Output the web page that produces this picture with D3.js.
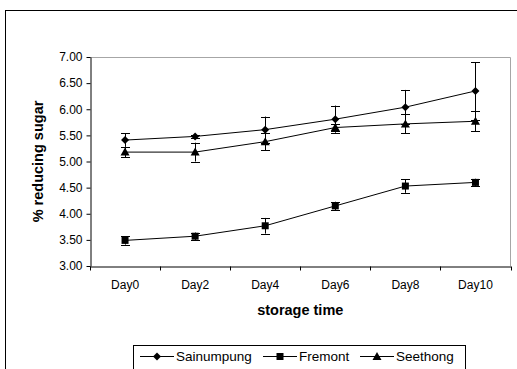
<!DOCTYPE html>
<meta charset="utf-8">
<style>
body { margin: 0; background: #fff; }
text { font-family: Arial, "Liberation Sans", sans-serif; fill: #000; }
.tick text { font-size: 12px; }
.title { font-size: 14.5px; font-weight: bold; }
.legend text { font-size: 13.5px; }
</style>
<body>
<div id="chart"></div>
<script src="https://cdn.jsdelivr.net/npm/d3@7/dist/d3.min.js"></script>
<script>

// data
var days = ["Day0", "Day2", "Day4", "Day6", "Day8", "Day10"];
var yTicks = [3.00, 3.50, 4.00, 4.50, 5.00, 5.50, 6.00, 6.50, 7.00];
var seriesNames = ["Sainumpung", "Fremont", "Seethong"];
var seriesShapes = ["diamond", "square", "triangle"];
var sainumpung = [5.41, 5.48, 5.61, 5.81, 6.04, 6.35];
var sainumpungErr = [0.13, 0.03, 0.25, 0.26, 0.33, 0.55];
var fremont = [3.49, 3.57, 3.77, 4.15, 4.53, 4.60];
var fremontErr = [0.08, 0.07, 0.15, 0.08, 0.13, 0.07];
var seethong = [5.18, 5.18, 5.38, 5.65, 5.72, 5.77];
var seethongErr = [0.10, 0.18, 0.16, 0.06, 0.18, 0.19];

var WIDTH = 517;
var HEIGHT = 369;
var PLOT_LEFT = 90;
var PLOT_RIGHT = 510.5;
var PLOT_TOP = 57;
var PLOT_BOTTOM = 266;

var svg = d3.select('#chart').append('svg')
    .attr('width', WIDTH)
    .attr('height', HEIGHT);

// outer chart frame (cut off at right and bottom)
svg.append('rect')
    .attr('x', 5.5).attr('y', 10.5)
    .attr('width', 530).attr('height', 380)
    .attr('fill', '#fff')
    .attr('stroke', '#000')
    .attr('stroke-width', 1);

var x = d3.scaleBand()
    .domain(days)
    .range([PLOT_LEFT, PLOT_RIGHT]);

var y = d3.scaleLinear()
    .domain([3, 7])
    .range([PLOT_BOTTOM, PLOT_TOP]);

var cx = function(d, i) { return x(days[i]) + x.bandwidth() / 2; };

// plot area border, grey on top and right
svg.append('path')
    .attr('d', 'M' + PLOT_LEFT + ',' + (PLOT_TOP + 0.5) + 'H' + PLOT_RIGHT + 'V' + PLOT_BOTTOM)
    .attr('fill', 'none')
    .attr('stroke', '#a6a6a6')
    .attr('stroke-width', 1);

var yAxis = svg.append('g')
    .attr('transform', 'translate(' + (PLOT_LEFT + 0.5) + ',0)')
    .call(d3.axisLeft(y).tickValues(yTicks).tickFormat(d3.format('.2f'))
          .tickSizeInner(4).tickSizeOuter(0).tickPadding(4));

var xAxis = svg.append('g')
    .attr('transform', 'translate(0,' + (PLOT_BOTTOM + 0.5) + ')')
    .call(d3.axisBottom(x).tickSize(0).tickPadding(14));

// excel style ticks on the category boundaries
xAxis.selectAll('.sep')
    .data(days.concat(['end']))
    .enter().append('line')
    .attr('class', 'sep')
    .attr('x1', function(d, i) { return Math.round(PLOT_LEFT + i * x.bandwidth()) + 0.5; })
    .attr('x2', function(d, i) { return Math.round(PLOT_LEFT + i * x.bandwidth()) + 0.5; })
    .attr('y1', 0).attr('y2', 4)
    .attr('stroke', '#000');

svg.selectAll('.domain').attr('stroke', '#000');
svg.selectAll('.tick line').attr('stroke', '#000');
svg.selectAll('.tick text').attr('fill', '#000')
    .style('font-family', 'Arial, "Liberation Sans", sans-serif');

svg.append('text')
    .attr('class', 'title')
    .attr('transform', 'translate(43,' + ((PLOT_TOP + PLOT_BOTTOM) / 2) + ') rotate(-90)')
    .attr('text-anchor', 'middle')
    .text('% reducing sugar');

svg.append('text')
    .attr('class', 'title')
    .attr('x', (PLOT_LEFT + PLOT_RIGHT) / 2)
    .attr('y', 315)
    .attr('text-anchor', 'middle')
    .text('storage time');

var markerPath = function(shape) {
  if (shape == 'diamond') {
    return 'M0,-4L4,0L0,4L-4,0Z';
  } else if (shape == 'square') {
    return 'M-3.5,-3.5H3.5V3.5H-3.5Z';
  }
  return 'M0,-4.5L4.5,3.5H-4.5Z';
};

var drawSeries = function(values, errs, shape) {
  var g = svg.append('g');
  var line = d3.line()
      .x(cx)
      .y(function(d) { return y(d); });
  g.append('path')
      .datum(values)
      .attr('d', line)
      .attr('fill', 'none')
      .attr('stroke', '#000')
      .attr('stroke-width', 1);
  var bars = g.selectAll('.err')
      .data(values)
      .enter().append('g')
      .attr('class', 'err')
      .attr('transform', function(d, i) { return 'translate(' + (Math.round(cx(d, i)) + 0.5) + ',0)'; });
  bars.append('line')
      .attr('x1', 0).attr('x2', 0)
      .attr('y1', function(d, i) { return y(d + errs[i]); })
      .attr('y2', function(d, i) { return y(d - errs[i]); })
      .attr('stroke', '#000');
  bars.append('line')
      .attr('x1', -4.5).attr('x2', 4.5)
      .attr('y1', function(d, i) { return Math.round(y(d + errs[i])) + 0.5; })
      .attr('y2', function(d, i) { return Math.round(y(d + errs[i])) + 0.5; })
      .attr('stroke', '#000');
  bars.append('line')
      .attr('x1', -4.5).attr('x2', 4.5)
      .attr('y1', function(d, i) { return Math.round(y(d - errs[i])) + 0.5; })
      .attr('y2', function(d, i) { return Math.round(y(d - errs[i])) + 0.5; })
      .attr('stroke', '#000');
  g.selectAll('.mark')
      .data(values)
      .enter().append('path')
      .attr('class', 'mark')
      .attr('transform', function(d, i) { return 'translate(' + cx(d, i) + ',' + y(d) + ')'; })
      .attr('d', markerPath(shape))
      .attr('fill', '#000');
};

drawSeries(sainumpung, sainumpungErr, 'diamond');
drawSeries(fremont, fremontErr, 'square');
drawSeries(seethong, seethongErr, 'triangle');

// legend
var legend = svg.append('g').attr('class', 'legend');
legend.append('rect')
    .attr('x', 133.5).attr('y', 345.5)
    .attr('width', 332).attr('height', 40)
    .attr('fill', '#fff')
    .attr('stroke', '#000');
var legendX = [140, 263, 360];
var entry = legend.selectAll('.entry')
    .data(seriesNames)
    .enter().append('g')
    .attr('class', 'entry')
    .attr('transform', function(d, i) { return 'translate(' + legendX[i] + ',356)'; });
entry.append('line')
    .attr('x1', 0).attr('x2', 34)
    .attr('y1', 0.5).attr('y2', 0.5)
    .attr('stroke', '#000');
entry.append('path')
    .attr('transform', 'translate(17,0.5)')
    .attr('d', function(d, i) { return markerPath(seriesShapes[i]); })
    .attr('fill', '#000');
entry.append('text')
    .attr('x', 36)
    .attr('y', 5)
    .text(function(d) { return d; });

</script>
